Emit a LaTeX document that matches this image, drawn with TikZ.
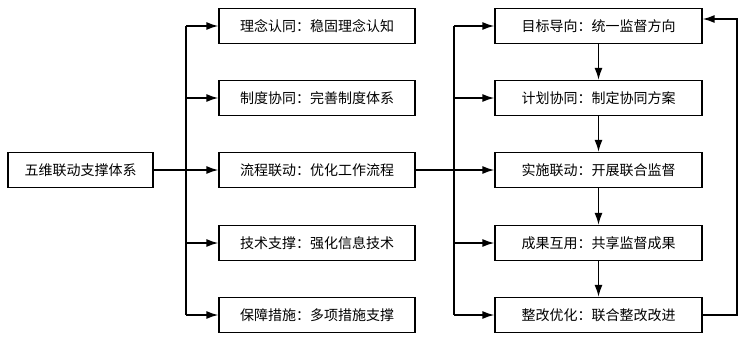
\documentclass[tikz,border=0pt]{standalone}
\usepackage{fontspec}
\newfontfamily\cjk{Noto Sans CJK SC}
\usetikzlibrary{arrows.meta,positioning,calc}
\begin{document}
\begin{tikzpicture}[x=1pt, y=-1pt,
    every node/.style={font=\cjk\fontsize{14}{16}\selectfont},
    rootbox/.style={draw, line width=1.3pt, minimum width=145pt, minimum height=35pt, inner sep=0pt},
    midbox/.style={draw, line width=1.3pt, minimum width=196pt, minimum height=35pt, inner sep=0pt},
    stepbox/.style={draw, line width=1.3pt, minimum width=207pt, minimum height=35pt, inner sep=0pt},
    link/.style={line width=1.5pt},
    arr/.style={line width=1.5pt, -{Latex[length=12pt,width=8pt]}}]
  \useasboundingbox (0,0) rectangle (742,340);

  % Root
  \node[rootbox] (root) at (80.5,170) {五维联动支撑体系};

  % Five dimensions
  \node[midbox] (m1) at (317,26) {理念认同：稳固理念认知};
  \node[midbox] (m2) at (317,98) {制度协同：完善制度体系};
  \node[midbox] (m3) at (317,170) {流程联动：优化工作流程};
  \node[midbox] (m4) at (317,243) {技术支撑：强化信息技术};
  \node[midbox] (m5) at (317,315) {保障措施：多项措施支撑};

  % Process steps
  \node[stepbox] (s1) at (598.5,26) {目标导向：统一监督方向};
  \node[stepbox] (s2) at (598.5,98) {计划协同：制定协同方案};
  \node[stepbox] (s3) at (598.5,170) {实施联动：开展联合监督};
  \node[stepbox] (s4) at (598.5,243) {成果互用：共享监督成果};
  \node[stepbox] (s5) at (598.5,315) {整改优化：联合整改改进};

  % Left trunk
  \coordinate (ltop) at (186,26);
  \coordinate (lbot) at (186,315);
  \draw[link] (ltop) -- (lbot);
  \draw[link] (root.east) -- (ltop |- root.east);
  \foreach \i in {1,...,5}
    \draw[arr] (ltop |- m\i.west) -- (m\i.west);

  % Right trunk
  \coordinate (rtop) at (454,26);
  \coordinate (rbot) at (454,315);
  \draw[link] (rtop) -- (rbot);
  \draw[link] (m3.east) -- (rtop |- m3.east);
  \foreach \i in {1,...,5}
    \draw[arr] (rtop |- s\i.west) -- (s\i.west);

  % Step chain
  \foreach \i/\j in {1/2,2/3,3/4,4/5}
    \draw[arr] (s\i.south) -- (s\j.north);

  % Feedback loop
  \coordinate (fbtop) at (737,19);
  \coordinate (fbbot) at (737,315);
  \draw[arr] (s5.east) -- (fbbot) -- (fbtop) -- (s1.east |- fbtop);
\end{tikzpicture}
\end{document}
